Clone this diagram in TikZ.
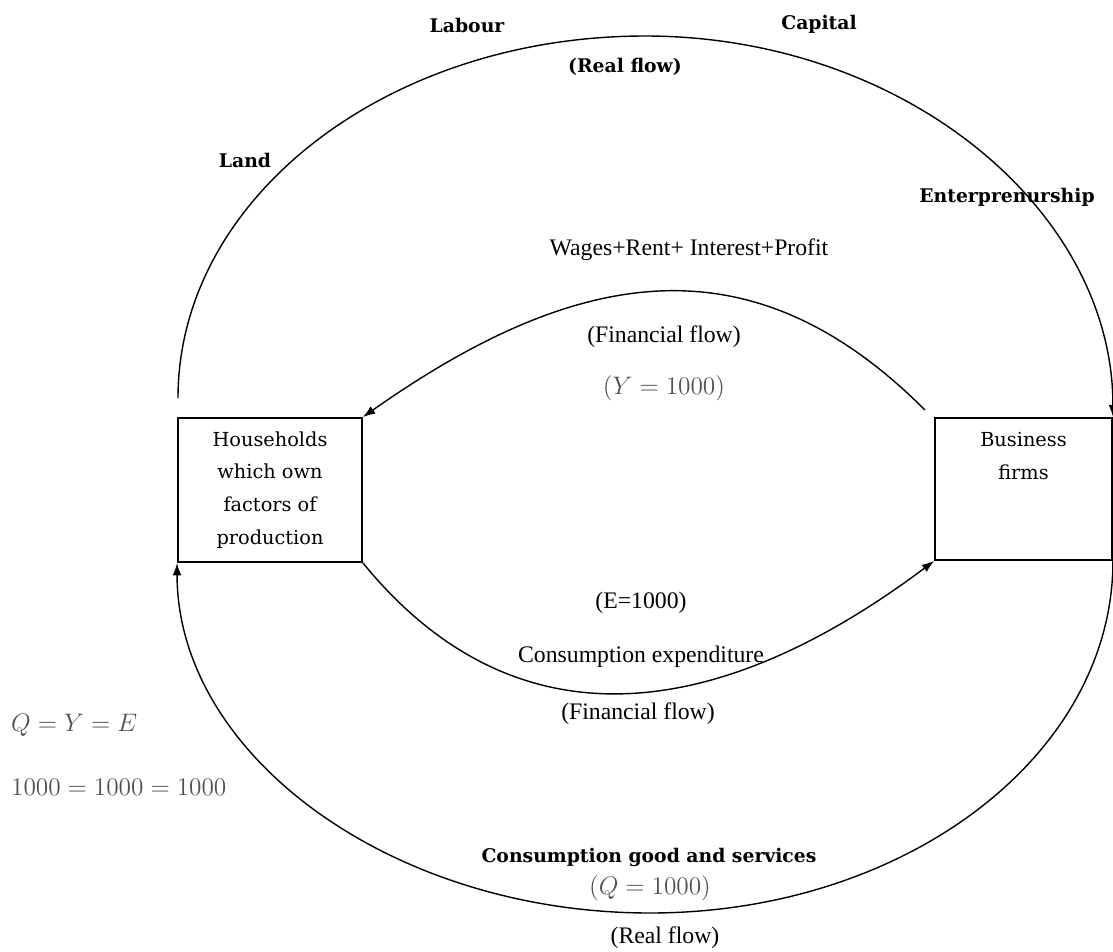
\documentclass[tikz,border=0pt]{standalone}
\usepackage{amsmath}
\usepackage{fontspec}
\setmainfont{Liberation Serif}
\newfontfamily\slabfont{DejaVu Serif}
\usepackage{xcolor}
\usetikzlibrary{arrows.meta}
\definecolor{mathgray}{RGB}{80,80,80}
\tikzset{
  flow/.style={line width=0.8pt,-{Latex[length=7pt,width=5pt]}},
  sector/.style={draw,line width=1.1pt,inner sep=0pt,align=center,font=\slabfont\fontsize{11}{18.7}\selectfont},
  factor/.style={font=\slabfont\bfseries\fontsize{10.7}{13}\selectfont},
  money/.style={font=\fontsize{13.5}{16}\selectfont},
  amount/.style={text=mathgray,font=\fontsize{14.5}{17}\selectfont},
}

\begin{document}
\begin{tikzpicture}[x=0.02cm,y=-0.02cm]
  \useasboundingbox (0,0) rectangle (1113,951);

  % Sectors
  \node[sector,minimum width=3.68cm,minimum height=2.88cm] (hh) at (270,490) {Households\\which own\\factors of\\production};
  \node[sector,minimum width=3.54cm,minimum height=2.84cm] (bf) at (1023.5,489) {Business\\firms\\~\\~};

  % Factor services (real flow, upper)
  \coordinate (landstart) at (178,398);
  \coordinate (realtop) at (645,36);
  \draw[flow] (landstart) .. controls +(0,-200) and +(-258,0) .. (realtop)
    .. controls +(258,0) and +(0,-208) .. (bf.north east);
  \node[factor] (labour) at (467,25) {Labour};
  \node[factor] (capital) at (819,24) {Capital};
  \node[factor] (realup) at (625,67) {(Real flow)};
  \node[factor] (land) at (245,160) {Land};
  \node[factor] (entre) at (1007,197) {Enterprenurship};

  % Factor payments
  \coordinate (wagestart) at (925,410);
  \draw[flow] (wagestart) .. controls +(-170,-170) and +(220,-155) .. (hh.north east);
  \node[money] (wages) at (689,250) {Wages+Rent+ Interest+Profit};
  \node[money] (finup) at (664,337) {(Financial flow)};
  \node[amount] (yval) at (664,388) {$(Y = 1000)$};

  % Consumption expenditure
  \draw[flow] (hh.south east) .. controls +(155,190) and +(-212,159) .. (bf.south west);
  \node[money] (eval) at (641,603) {(E=1000)};
  \node[money] (spend) at (641,657) {Consumption expenditure};
  \node[money] (finlow) at (638,714) {(Financial flow)};

  % Goods and services (real flow, lower)
  \coordinate (realbottom) at (650,913);
  \draw[flow] (bf.south east) .. controls +(0,195) and +(255,0) .. (realbottom)
    .. controls +(-259,0) and +(0,192) .. (hh.south west);
  \node[factor] (goods) at (649,857) {Consumption good and services};
  \node[amount] (qval) at (650,888) {$(Q = 1000)$};
  \node[money] (reallow) at (665,938) {(Real flow)};

  % Identity
  \node[amount,anchor=west] (ident) at (5,725) {$Q = Y = E$};
  \node[amount,anchor=west] (values) at (5,787) {$1000 = 1000 = 1000$};
\end{tikzpicture}
\end{document}
